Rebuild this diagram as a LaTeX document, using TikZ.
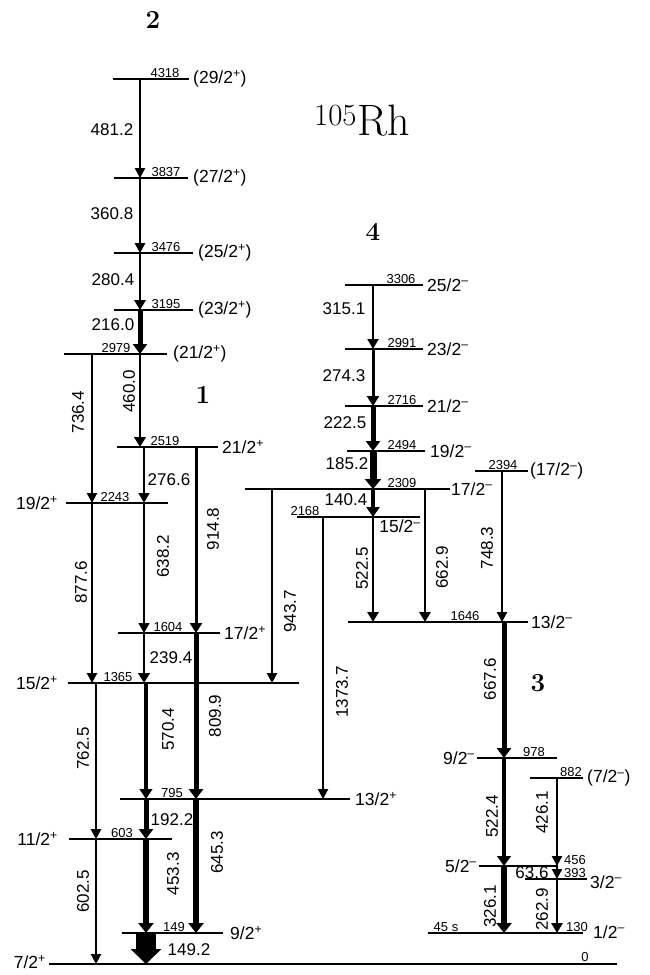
\documentclass[tikz,border=0pt]{standalone}
\usepackage{fontspec}
\usetikzlibrary{arrows.meta}
\newfontfamily\lsans{Liberation Sans}
\newcommand{\plusup}{\textsuperscript{+}}
\newcommand{\minusup}{\textsuperscript{\textendash}}

\tikzset{
  lvl/.style={line width=1.3pt},
  gam/.style={-{Triangle[width=9pt 1,length=10pt]}},
  glab/.style={font=\lsans\fontsize{17}{17}\selectfont, inner sep=0pt},
  rlab/.style={glab, rotate=90},
  elab/.style={font=\lsans\fontsize{13}{13}\selectfont, inner sep=1pt, anchor=south},
  spin/.style={font=\lsans\fontsize{17.5}{17.5}\selectfont, inner sep=0pt},
  band/.style={font=\bfseries\fontsize{26}{26}\selectfont}
}

\begin{document}
\begin{tikzpicture}[x=1pt, y=-1pt]
  \useasboundingbox (0,0) rectangle (650,975);

  % titles
  \node[band] (b2) at (153,20) {2};
  \node[band] (b4) at (373,232) {4};
  \node[band] (b1) at (203,395) {1};
  \node[band] (b3) at (538,683) {3};
  \node[font=\fontsize{44}{44}\selectfont, anchor=base west, inner sep=0pt] (nuc) at (314,135) {\textsuperscript{105}Rh};

  % levels, band 2 and 1
  \draw[lvl] (113,79) coordinate (l4318) -- (189,79);
  \draw[lvl] (114,178) coordinate (l3837) -- (188,178);
  \draw[lvl] (114,253) coordinate (l3476) -- (193,253);
  \draw[lvl] (114,310) coordinate (l3195) -- (193,310);
  \draw[lvl] (64,354) coordinate (l2979) -- (167,354);
  \draw[lvl] (117,447) coordinate (l2519) -- (218,447);
  \draw[lvl] (66,503) coordinate (l2243) -- (168,503);
  \draw[lvl] (118,633) coordinate (l1604) -- (220,633);
  \draw[lvl] (68,683) coordinate (l1365) -- (299,683);
  \draw[lvl] (120,799) coordinate (l795) -- (350,799);
  \draw[lvl] (69,839) coordinate (l603) -- (172,839);
  \draw[lvl] (122,933) coordinate (l149) -- (223,933);
  \draw[lvl, line width=2pt] (49,964) coordinate (l0) -- (617,964);
  % levels, band 4 and 3
  \draw[lvl] (345,285) coordinate (l3306) -- (423,285);
  \draw[lvl] (345,349) coordinate (l2991) -- (423,349);
  \draw[lvl] (345,406) coordinate (l2716) -- (423,406);
  \draw[lvl] (347,451) coordinate (l2494) -- (425,451);
  \draw[lvl] (245,489) coordinate (l2309) -- (450,489);
  \draw[lvl] (297,517) coordinate (l2168) -- (420,517);
  \draw[lvl] (475,471) coordinate (l2394) -- (528,471);
  \draw[lvl] (348,622) coordinate (l1646) -- (528,622);
  \draw[lvl] (477,758) coordinate (l978) -- (557,758);
  \draw[lvl] (530,778) coordinate (l882) -- (583,778);
  \draw[lvl] (479,866) coordinate (l456) -- (558,866);
  \draw[lvl] (525,879) coordinate (l393) -- (587,879);
  \draw[lvl] (428,933) coordinate (l130) -- (583,933);

  % level energies
  \node[elab] (e4318) at (165,79) {4318};
  \node[elab] (e3837) at (166,178) {3837};
  \node[elab] (e3476) at (166,253) {3476};
  \node[elab] (e3195) at (166,310) {3195};
  \node[elab] (e2979) at (116,354) {2979};
  \node[elab] (e2519) at (165,447) {2519};
  \node[elab] (e2243) at (115,503) {2243};
  \node[elab] (e1604) at (168,633) {1604};
  \node[elab] (e1365) at (118,683) {1365};
  \node[elab] (e795) at (172,799) {795};
  \node[elab] (e603) at (122,839) {603};
  \node[elab] (e149) at (174,933) {149};
  \node[elab] (e0) at (585,963) {0};
  \node[elab] (e3306) at (401,285) {3306};
  \node[elab] (e2991) at (402,349) {2991};
  \node[elab] (e2716) at (402,406) {2716};
  \node[elab] (e2494) at (402,451) {2494};
  \node[elab] (e2309) at (402,489) {2309};
  \node[elab] (e2168) at (305,517) {2168};
  \node[elab] (e2394) at (503,471) {2394};
  \node[elab] (e1646) at (465,622) {1646};
  \node[elab] (e978) at (534,758) {978};
  \node[elab] (e882) at (571,778) {882};
  \node[elab] (e456) at (575,866) {456};
  \node[elab] (e393) at (575,879) {393};
  \node[elab] (e130) at (577,933) {130};
  \node[elab] (ehalf) at (446,933) {45 s};

  % spins
  \node[spin, anchor=west] (s4318) at (193,79) {(29/2\plusup)};
  \node[spin, anchor=west] (s3837) at (193,178) {(27/2\plusup)};
  \node[spin, anchor=west] (s3476) at (198,253) {(25/2\plusup)};
  \node[spin, anchor=west] (s3195) at (198,310) {(23/2\plusup)};
  \node[spin, anchor=west] (s2979) at (173,354) {(21/2\plusup)};
  \node[spin, anchor=west] (s2519) at (222,447) {21/2\plusup};
  \node[spin, anchor=east] (s2243) at (58,503) {19/2\plusup};
  \node[spin, anchor=west] (s1604) at (224,633) {17/2\plusup};
  \node[spin, anchor=east] (s1365) at (58,683) {15/2\plusup};
  \node[spin, anchor=west] (s795) at (355,799) {13/2\plusup};
  \node[spin, anchor=east] (s603) at (58,839) {11/2\plusup};
  \node[spin, anchor=west] (s149) at (230,933) {9/2\plusup};
  \node[spin, anchor=east] (s0) at (46,962) {7/2\plusup};
  \node[spin, anchor=west] (s3306) at (427,285) {25/2\minusup};
  \node[spin, anchor=west] (s2991) at (427,349) {23/2\minusup};
  \node[spin, anchor=west] (s2716) at (427,406) {21/2\minusup};
  \node[spin, anchor=west] (s2494) at (430,451) {19/2\minusup};
  \node[spin, anchor=west] (s2309) at (451,489) {17/2\minusup};
  \node[spin, anchor=north] (s2168) at (400,520) {15/2\minusup};
  \node[spin, anchor=west] (s2394) at (530,471) {(17/2\minusup)};
  \node[spin, anchor=west] (s1646) at (531,622) {13/2\minusup};
  \node[spin, anchor=east] (s978) at (475,758) {9/2\minusup};
  \node[spin, anchor=west] (s882) at (587,778) {(7/2\minusup)};
  \node[spin, anchor=east] (s456) at (477,866) {5/2\minusup};
  \node[spin, anchor=west] (s393) at (590,882) {3/2\minusup};
  \node[spin, anchor=west] (s130) at (593,932) {1/2\minusup};

  % columns of the gamma rays
  \coordinate (cA) at (140,0);
  \coordinate (cB) at (144,0);
  \coordinate (cC) at (146,0);
  \coordinate (cD) at (196,0);
  \coordinate (cL) at (92,0);
  \coordinate (cM) at (96,0);
  \coordinate (cE) at (272,0);
  \coordinate (cF) at (323,0);
  \coordinate (cG) at (373,0);
  \coordinate (cH) at (425,0);
  \coordinate (cI) at (502,0);
  \coordinate (cJ) at (504,0);
  \coordinate (cK) at (557,0);

  % band 2
  \draw[gam, line width=1.3pt] (l4318 -| cA) -- (l3837 -| cA) node[pos=.51, xshift=-28pt, glab] (g481) {481.2};
  \draw[gam, line width=1.5pt] (l3837 -| cA) -- (l3476 -| cA) node[pos=.47, xshift=-28pt, glab] (g360) {360.8};
  \draw[gam, line width=2.3pt] (l3476 -| cA) -- (l3195 -| cA) node[pos=.47, xshift=-27pt, glab] (g280) {280.4};
  \draw[gam, line width=5pt] (l3195 -| cA) -- (l2979 -| cA) node[pos=.34, xshift=-27pt, glab] (g216) {216.0};
  \draw[gam, line width=2.5pt] (l2979 -| cA) -- (l2519 -| cA) node[pos=.40, xshift=-11pt, rlab] (g460) {460.0};
  \draw[gam, line width=1.3pt] (l2979 -| cL) -- (l2243 -| cL) node[pos=.39, xshift=-14pt, rlab] (g736) {736.4};
  \draw[gam, line width=1.3pt] (l2243 -| cL) -- (l1365 -| cL) node[pos=.44, xshift=-11pt, rlab] (g877) {877.6};
  \draw[gam, line width=1.5pt] (l1365 -| cM) -- (l603 -| cM) node[pos=.42, xshift=-13pt, rlab] (g762) {762.5};
  \draw[gam, line width=1.3pt] (l603 -| cM) -- (l0 -| cM) node[pos=.42, xshift=-13pt, rlab] (g602) {602.5};

  % band 1
  \draw[gam, line width=1.8pt] (l2519 -| cB) -- (l2243 -| cB) node[pos=.59, xshift=25pt, glab] (g276) {276.6};
  \draw[gam, line width=1.8pt] (l2243 -| cB) -- (l1604 -| cB) node[pos=.41, xshift=19pt, rlab] (g638) {638.2};
  \draw[gam, line width=2.5pt] (l1604 -| cB) -- (l1365 -| cB) node[pos=.50, xshift=27pt, glab] (g239) {239.4};
  \draw[gam, line width=3.5pt] (l1365 -| cC) -- (l795 -| cC) node[pos=.40, xshift=22pt, rlab] (g570) {570.4};
  \draw[gam, line width=5pt] (l795 -| cC) -- (l603 -| cC) node[pos=.52, xshift=26pt, glab] (g192) {192.2};
  \draw[gam, line width=6pt] (l603 -| cC) -- (l149 -| cC) node[pos=.37, xshift=27pt, rlab] (g453) {453.3};
  \draw[-{Triangle[width=30pt,length=15pt]}, line width=20pt] (l149 -| cC) -- (l0 -| cC) node[pos=.55, xshift=43pt, glab] (g149) {149.2};
  \draw[gam, line width=3pt] (l2519 -| cD) -- (l1604 -| cD) node[pos=.44, xshift=17pt, rlab] (g914) {914.8};
  \draw[gam, line width=5pt] (l1604 -| cD) -- (l795 -| cD) node[pos=.50, xshift=19pt, rlab] (g809) {809.9};
  \draw[gam, line width=6pt] (l795 -| cD) -- (l149 -| cD) node[pos=.40, xshift=21pt, rlab] (g645) {645.3};

  % band 4 and links
  \draw[gam, line width=2pt] (l3306 -| cG) -- (l2991 -| cG) node[pos=.375, xshift=-29pt, glab] (g315) {315.1};
  \draw[gam, line width=3pt] (l2991 -| cG) -- (l2716 -| cG) node[pos=.46, xshift=-29pt, glab] (g274) {274.3};
  \draw[gam, line width=5pt] (l2716 -| cG) -- (l2494 -| cG) node[pos=.38, xshift=-28pt, glab] (g222) {222.5};
  \draw[gam, line width=7pt] (l2494 -| cG) -- (l2309 -| cG) node[pos=.32, xshift=-26pt, glab] (g185) {185.2};
  \draw[gam, line width=4pt] (l2309 -| cG) -- (l2168 -| cG) node[pos=.39, xshift=-27pt, glab] (g140) {140.4};
  \draw[gam, line width=2.2pt] (l2168 -| cG) -- (l1646 -| cG) node[pos=.49, xshift=-11pt, rlab] (g522a) {522.5};
  \draw[gam, line width=2.2pt] (l2309 -| cH) -- (l1646 -| cH) node[pos=.59, xshift=17pt, rlab] (g662) {662.9};
  \draw[gam, line width=1.3pt] (l2394 -| cI) -- (l1646 -| cI) node[pos=.51, xshift=-15pt, rlab] (g748) {748.3};
  \draw[gam, line width=1.3pt] (l2309 -| cE) -- (l1365 -| cE) node[pos=.63, xshift=18pt, rlab] (g943) {943.7};
  \draw[gam, line width=1.3pt] (l2168 -| cF) -- (l795 -| cF) node[pos=.62, xshift=19pt, rlab] (g1373) {1373.7};

  % band 3
  \draw[gam, line width=5pt] (l1646 -| cJ) -- (l978 -| cJ) node[pos=.42, xshift=-14pt, rlab] (g667) {667.6};
  \draw[gam, line width=4.5pt] (l978 -| cJ) -- (l456 -| cJ) node[pos=.54, xshift=-12pt, rlab] (g522b) {522.4};
  \draw[gam, line width=6pt] (l456 -| cJ) -- (l130 -| cJ) node[pos=.60, xshift=-14pt, rlab] (g326) {326.1};
  \draw[gam, line width=1.3pt] (l882 -| cK) -- (l456 -| cK) node[pos=.39, xshift=-15pt, rlab] (g426) {426.1};
  \draw[gam, line width=1.3pt] (l456 -| cK) -- (l393 -| cK) node[pos=.5, xshift=-25pt, glab] (g63) {63.6};
  \draw[gam, line width=2.2pt] (l393 -| cK) -- (l130 -| cK) node[pos=.56, xshift=-15pt, rlab] (g262) {262.9};
\end{tikzpicture}
\end{document}
